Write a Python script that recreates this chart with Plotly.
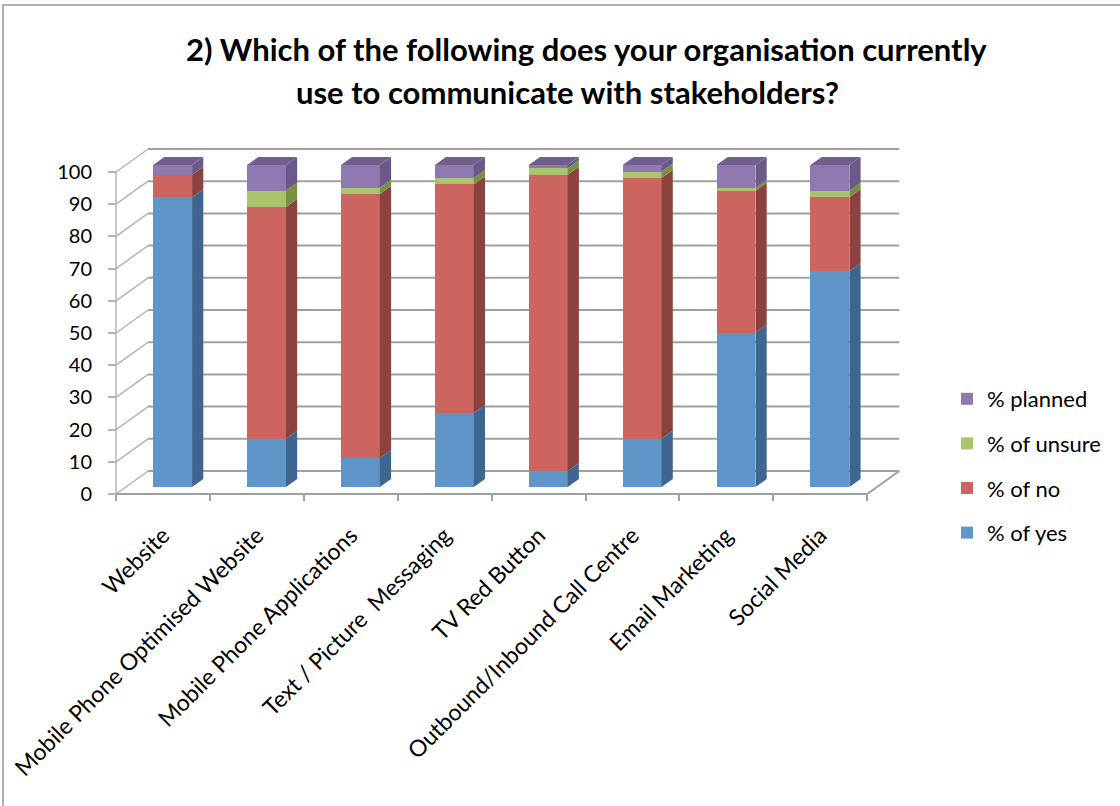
import plotly.graph_objects as go

# ---- survey results (percent of respondents) ----
CATEGORIES = [
    "Website",
    "Mobile Phone Optimised Website",
    "Mobile Phone Applications",
    "Text / Picture  Messaging",
    "TV Red Button",
    "Outbound/Inbound Call Centre",
    "Email Marketing",
    "Social Media",
]
PCT_YES = [90, 15, 9, 23, 5, 15, 48, 67]
PCT_NO = [7, 72, 82, 71, 92, 81, 44, 23]
PCT_UNSURE = [0, 5, 2, 2, 2, 2, 1, 2]
PCT_PLANNED = [3, 8, 7, 4, 1, 2, 7, 8]
SERIES_NAMES = ["% of yes", "% of no", "% of unsure", "% planned"]
Y_TICKS = list(range(0, 101, 10))

TITLE_1 = "2) Which of the following does your organisation currently"
TITLE_2 = "use to communicate with stakeholders?"

# ---- styling ----
FRONT = ["#5F96C9", "#CC6560", "#A9C46C", "#9079B1"]
SIDE = ["#3E6690", "#8C423E", "#76913F", "#6A5989"]
TOP = ["#4E7BAA", "#A04F4B", "#8DA955", "#735F8F"]
FONT = "Lato, 'Open Sans', sans-serif"
GRID = "#A0A0A0"
WALL = "#B4B4B4"

# ---- pseudo-3D projection (figure pixels) ----
W, H = 1120, 806
CAT0_PX, CAT_STEP = 163.0, 93.9          # category 0 centre, spacing
ZERO_PY, UNIT_PX = 494.0, 3.22           # value 0 row, pixels per percent
DEPTH_PX = (32.0, -23.0)                 # full floor depth offset
BOX = (40.0, 980.0, 110.0, 560.0)        # left, right, top, bottom of plot box
BAR_DEPTH0, BAR_DEPTH1 = 0.30, 0.65      # bar front / back within the floor
BAR_WIDTH = 0.415

DC = DEPTH_PX[0] / CAT_STEP              # depth shift in category units
DV = -DEPTH_PX[1] / UNIT_PX              # depth shift in value units


def x_range(d):
    off = DEPTH_PX[0] * d
    return [(BOX[0] - CAT0_PX - off) / CAT_STEP, (BOX[1] - CAT0_PX - off) / CAT_STEP]


def y_range(d):
    base = ZERO_PY + DEPTH_PX[1] * d
    return [(base - BOX[3]) / UNIT_PX, (base - BOX[2]) / UNIT_PX]


def seg_lines(pairs):
    xs, ys = [], []
    for (x0, y0), (x1, y1) in pairs:
        xs += [x0, x1, None]
        ys += [y0, y1, None]
    return xs, ys


fig = go.Figure()

# ---- walls, floor and gridlines (front-plane coordinates) ----
n = len(CATEGORIES)
left, right = -0.5, n - 0.5

gx, gy = seg_lines([((left + DC, v + DV), (right + DC, v + DV)) for v in Y_TICKS])
fig.add_trace(go.Scatter(x=gx, y=gy, mode="lines", line=dict(color=GRID, width=2),
                         hoverinfo="skip", showlegend=False))

wx, wy = seg_lines([((left, v), (left + DC, v + DV)) for v in Y_TICKS])
fig.add_trace(go.Scatter(x=wx, y=wy, mode="lines", line=dict(color=WALL, width=1.5),
                         hoverinfo="skip", showlegend=False))

fx, fy = seg_lines([
    ((left, 0), (right, 0)),
    ((right, 0), (right + DC, DV)),
])
fig.add_trace(go.Scatter(x=fx, y=fy, mode="lines", line=dict(color=GRID, width=2),
                         hoverinfo="skip", showlegend=False))
fig.add_trace(go.Scatter(x=[left, left], y=[0, Y_TICKS[-1]], mode="lines",
                         line=dict(color=WALL, width=1.5), hoverinfo="skip", showlegend=False))

# ---- stacked bars (front faces) on the bar plane ----
series = [PCT_YES, PCT_NO, PCT_UNSURE, PCT_PLANNED]
idx = list(range(n))
for k, vals in enumerate(series):
    fig.add_trace(go.Bar(
        x=idx, y=vals, width=BAR_WIDTH, name=SERIES_NAMES[k],
        marker=dict(color=FRONT[k], line=dict(width=0)),
        xaxis="x2", yaxis="y2", legendgroup=SERIES_NAMES[k],
        legendrank=len(series) - k,
    ))

# ---- side and top faces ----
bdc = (BAR_DEPTH1 - BAR_DEPTH0) * DC
bdv = (BAR_DEPTH1 - BAR_DEPTH0) * DV
half = BAR_WIDTH / 2
bottoms = [0.0] * n
tops_series = [None] * n
for k, vals in enumerate(series):
    sx, sy = [], []
    for i, v in enumerate(vals):
        b, t = bottoms[i], bottoms[i] + v
        xr = i + half
        sx += [xr, xr + bdc, xr + bdc, xr, xr, None]
        sy += [b, b + bdv, t + bdv, t, b, None]
        if v > 0:
            tops_series[i] = k
        bottoms[i] = t
    fig.add_trace(go.Scatter(x=sx, y=sy, mode="lines", fill="toself", fillcolor=SIDE[k],
                             line=dict(width=0), xaxis="x2", yaxis="y2",
                             hoverinfo="skip", showlegend=False))

for k in range(len(series)):
    tx, ty = [], []
    for i in range(n):
        if tops_series[i] != k:
            continue
        t = bottoms[i]
        xl, xr = i - half, i + half
        tx += [xl, xr, xr + bdc, xl + bdc, xl, None]
        ty += [t, t, t + bdv, t + bdv, t, None]
    if tx:
        fig.add_trace(go.Scatter(x=tx, y=ty, mode="lines", fill="toself", fillcolor=TOP[k],
                                 line=dict(width=0), xaxis="x2", yaxis="y2",
                                 hoverinfo="skip", showlegend=False))

# ---- layout ----
dom_x = [BOX[0] / W, BOX[1] / W]
dom_y = [1 - BOX[3] / H, 1 - BOX[2] / H]

fig.update_layout(
    width=W, height=H, autosize=False,
    margin=dict(l=0, r=0, t=0, b=0, autoexpand=False),
    paper_bgcolor="white", plot_bgcolor="rgba(0,0,0,0)",
    font=dict(family=FONT, color="black"),
    barmode="stack", bargap=0,
    xaxis=dict(
        domain=dom_x, range=x_range(0), anchor="free", position=1 - ZERO_PY / H,
        automargin=False,
        tickmode="array", tickvals=idx, ticktext=CATEGORIES, tickangle=-45,
        ticks="outside", ticklen=6, tickcolor="rgba(0,0,0,0)",
        ticklabelstandoff=12,
        minor=dict(tickmode="array", tickvals=[i - 0.5 for i in range(n + 1)],
                   ticks="outside", ticklen=6, tickcolor=GRID, tickwidth=2, showgrid=False),
        tickfont=dict(size=23, family=FONT),
        showgrid=False, zeroline=False, showline=False,
    ),
    yaxis=dict(
        domain=dom_y, range=y_range(0), anchor="free", position=(CAT0_PX - CAT_STEP / 2) / W,
        automargin=False,
        tickmode="array", tickvals=Y_TICKS, ticks="outside", ticklen=8,
        tickcolor=WALL, tickwidth=1.5, ticklabelstandoff=12,
        tickfont=dict(size=20, family=FONT),
        showgrid=False, zeroline=False, showline=False,
    ),
    xaxis2=dict(overlaying="x", anchor="y2", range=x_range(BAR_DEPTH0), visible=False),
    yaxis2=dict(overlaying="y", anchor="x2", range=y_range(BAR_DEPTH0), visible=False),
    legend=dict(
        x=947 / W, y=1 - 378 / H, xanchor="left", yanchor="top",
        traceorder="grouped", tracegroupgap=13,
        font=dict(size=22, family=FONT), bgcolor="rgba(0,0,0,0)",
    ),
    annotations=[
        dict(text=f"<b>{TITLE_1}</b>", x=586 / W, y=1 - 49 / H, xref="paper", yref="paper",
             showarrow=False, xanchor="center", yanchor="middle",
             font=dict(size=31, family=FONT)),
        dict(text=f"<b>{TITLE_2}</b>", x=567 / W, y=1 - 92 / H, xref="paper", yref="paper",
             showarrow=False, xanchor="center", yanchor="middle",
             font=dict(size=31, family=FONT)),
    ],
    shapes=[
        dict(type="path", xref="paper", yref="paper",
             path=f"M {3 / W},-0.02 L {3 / W},{1 - 5 / H} L 1.02,{1 - 5 / H}",
             line=dict(color="#B0B0B0", width=2)),
    ],
)

fig.write_html("out.html")
